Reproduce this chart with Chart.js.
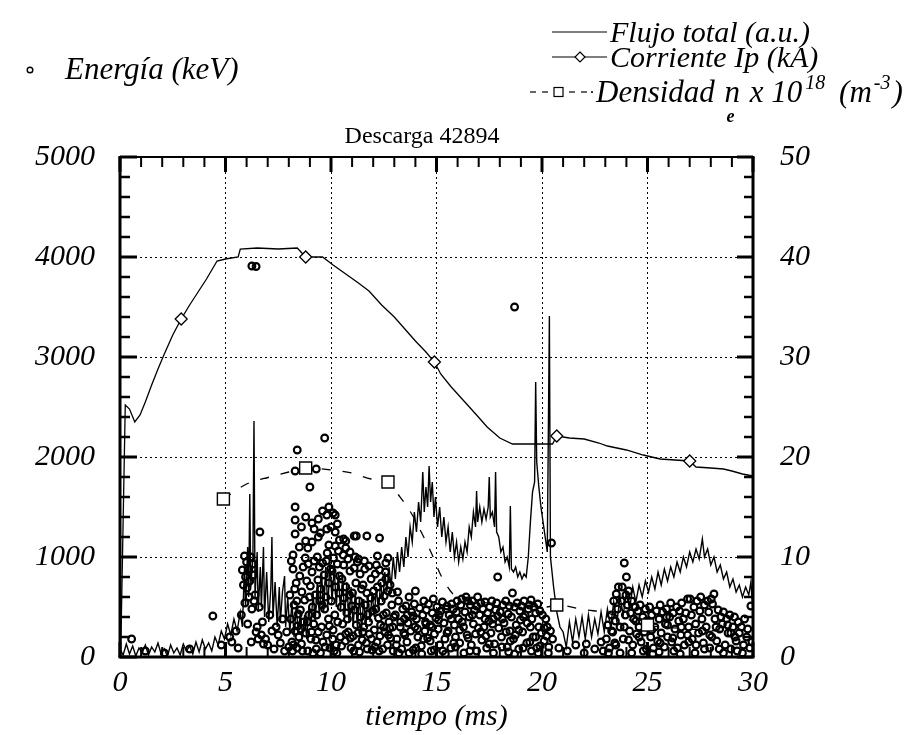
<!DOCTYPE html>
<html>
<head>
<meta charset="utf-8">
<script src="https://cdn.jsdelivr.net/npm/chart.js@4.4.1/dist/chart.umd.min.js"></script>
<style>
html,body{margin:0;padding:0;background:#fff;}
canvas{display:block;}
</style>
</head>
<body>
<canvas id="c" width="915" height="735"></canvas>
<script>
// ---------------- DATA ----------------
const chartTitle = 'Descarga 42894';
const xTitle = 'tiempo (ms)';

// Flujo total (a.u.) : [t (ms), value] on left axis
const fluxPoints = [
[0,80],[0.15,20],[0.3,130],[0.45,30],[0.6,110],[0.75,10],[0.9,90],[1.05,40],[1.2,120],[1.35,20],
[1.5,100],[1.65,50],[1.8,140],[1.95,30],[2.1,80],[2.25,10],[2.4,120],[2.55,40],[2.7,90],[2.85,20],
[3.0,130],[3.15,60],[3.3,110],[3.45,30],[3.6,150],[3.75,50],[3.9,170],[4.05,80],[4.2,140],[4.35,60],[4.5,200],
[4.65,120],[4.8,260],[4.95,180],[5.1,330],[5.25,220],[5.4,380],[5.55,260],[5.7,450],
[5.8,300],[5.9,900],[5.95,500],[6.05,1100],[6.1,600],[6.15,1630],[6.2,700],[6.3,1000],[6.35,2360],[6.4,600],
[6.5,1050],[6.55,450],[6.65,900],[6.7,500],[6.8,1100],[6.85,400],[6.95,850],[7.05,350],[7.15,700],[7.2,1200],
[7.25,400],[7.35,750],[7.45,300],[7.55,700],[7.6,350],[7.7,650],[7.8,810],[7.85,300],[7.95,600],[8.05,250],
[8.15,550],[8.25,200],[8.35,500],[8.45,250],[8.55,450],[8.65,200],[8.75,420],[8.85,180],[8.95,500],[9.05,300],
[9.15,650],[9.25,350],[9.35,750],[9.45,400],[9.55,850],[9.65,450],[9.75,900],[9.85,500],[9.95,950],[10.05,550],
[10.15,900],[10.25,500],[10.35,850],[10.45,450],[10.55,800],[10.65,400],[10.75,750],[10.85,350],[10.95,700],[11.05,300],
[11.15,650],[11.25,300],[11.35,600],[11.45,280],[11.55,580],[11.65,300],[11.75,620],[11.85,350],[11.95,650],[12.05,400],
[12.15,700],[12.25,450],[12.35,750],[12.45,550],[12.55,850],[12.65,650],[12.75,900],[12.85,700],[12.95,1000],[13.05,780],
[13.15,1050],[13.25,850],[13.35,1100],[13.45,900],[13.55,1200],[13.65,1000],[13.75,1300],[13.85,1150],[13.95,1450],[14.05,1250],
[14.15,1550],[14.25,1350],[14.35,1850],[14.42,1450],[14.5,1700],[14.58,1500],[14.65,1910],[14.72,1550],[14.8,1750],[14.88,1400],
[14.95,1600],[15.05,1300],[15.15,1500],[15.25,1200],[15.35,1400],[15.45,1150],[15.55,1300],[15.65,1050],[15.75,1250],[15.85,1000],
[15.95,1150],[16.05,950],[16.15,1100],[16.25,980],[16.35,1150],[16.45,1050],[16.55,1300],[16.65,1200],[16.75,1450],[16.85,1300],
[16.9,1660],[16.95,1350],[17.05,1500],[17.15,1350],[17.25,1480],[17.35,1380],[17.45,1500],[17.5,1800],[17.55,1400],[17.65,1450],
[17.75,1300],[17.8,1850],[17.85,1250],[17.95,1200],[18.05,1050],[18.15,1100],[18.25,950],[18.35,1000],[18.45,900],[18.5,1510],
[18.55,880],[18.65,850],[18.75,900],[18.85,800],[18.95,850],[19.05,780],[19.15,830],[19.25,800],[19.35,1000],[19.45,1350],
[19.55,1650],[19.65,1750],[19.7,2750],[19.75,1950],[19.85,1700],[19.95,1500],[20.05,1350],[20.15,1200],[20.25,1050],[20.35,3410],
[20.4,1000],[20.55,700],[20.7,450],[20.85,300],[21.0,250],[21.15,100],[21.3,350],[21.45,150],[21.6,380],[21.75,200],
[21.9,400],[22.05,180],[22.2,420],[22.35,200],[22.5,380],[22.65,230],[22.8,450],[22.95,250],[23.1,480],[23.25,300],
[23.4,550],[23.55,350],[23.7,600],[23.85,420],[24.0,650],[24.15,480],[24.3,700],[24.45,550],[24.6,720],[24.75,600],
[24.9,760],[25.05,650],[25.2,800],[25.35,680],[25.5,850],[25.65,720],[25.8,880],[25.95,760],[26.1,900],[26.25,800],
[26.4,950],[26.55,850],[26.7,1000],[26.85,900],[27.0,1050],[27.15,950],[27.3,1080],[27.45,980],[27.6,1180],[27.7,1000],
[27.85,1080],[28.0,920],[28.15,1000],[28.3,850],[28.45,920],[28.6,780],[28.75,850],[28.9,700],[29.05,780],[29.2,650],
[29.35,720],[29.5,600],[29.65,700],[29.8,620],[29.9,750],[30,450]
];

// Energía (keV) : [t (ms), keV] on left axis
const energyPoints = [
[0.55,180],[1.2,60],[2.1,40],[3.3,80],[4.4,410],[4.8,120],[5.2,200],
[5.3,150],[5.5,260],[5.6,90],[5.75,420],[5.8,870],[5.85,720],[5.9,1010],[5.92,540],[5.95,800],[6.0,950],
[6.02,690],[6.05,330],[6.1,880],[6.12,600],[6.15,760],[6.2,1000],[6.22,150],[6.25,480],[6.3,930],[6.32,820],
[6.35,560],[6.4,620],[6.45,250],[6.5,300],[6.55,180],[6.6,500],[6.63,1250],[6.7,220],[6.75,350],[6.8,130],
[6.9,180],[7.0,120],[7.1,420],[7.2,260],[7.3,80],[7.4,300],[7.5,220],[7.6,140],[7.7,380],[7.8,60],[7.9,250],[8.0,100],
[6.25,3910],[6.45,3905],[18.7,3500],
[8.4,2070],[9.7,2190],[8.3,1860],[9.3,1880],[9.0,1700],[8.3,1500],[8.3,1370],[8.8,1400],[9.1,1340],[9.4,1380],
[9.8,1420],[10.2,1420],[10.3,1330],[8.3,1230],[9.5,1240],[9.8,1280],[10.2,1250],[11.2,1210],[11.7,1210],[12.3,1190],
[8.5,1100],[8.8,1160],[10.4,1170],[10.7,1160],[8.2,1020],[8.9,1090],[10.2,1110],[10.7,1090],[10.9,1050],[11.3,980],
[12.2,1010],[12.7,990],[9.2,1280],[10.0,1300],[10.6,1180],[11.1,1210],[9.6,1460],[9.9,1500],[10.1,1440],[9.4,1200],
[8.6,1300],[12.6,940],[9.1,1150],[9.9,1120],
[8.05,620],[8.1,380],[8.15,150],[8.2,880],[8.25,520],[8.3,260],[8.35,740],[8.4,90],[8.45,430],[8.12,960],[8.28,680],[8.42,310],[8.18,60],[8.38,560],[8.48,200],
[8.52,810],[8.55,470],[8.6,130],[8.62,650],[8.68,900],[8.7,350],[8.75,570],[8.8,240],[8.85,760],[8.9,60],[8.92,930],[8.95,420],[8.58,280],[8.78,990],[8.98,600],
[9.02,710],[9.05,180],[9.1,850],[9.12,500],[9.18,330],[9.2,960],[9.25,620],[9.3,80],[9.32,420],[9.38,770],[9.4,250],[9.45,900],[9.48,560],[9.15,40],[9.35,1000],
[9.52,680],[9.55,300],[9.6,940],[9.62,150],[9.68,820],[9.7,480],[9.75,600],[9.8,220],[9.82,1040],[9.88,380],[9.9,740],[9.95,90],[9.98,880],[9.58,520],[9.78,960],
[10.02,560],[10.05,860],[10.1,270],[10.12,990],[10.18,420],[10.2,700],[10.25,120],[10.3,930],[10.32,350],[10.38,640],[10.4,810],[10.45,200],[10.48,500],[10.15,60],[10.35,1060],
[10.52,780],[10.55,330],[10.6,920],[10.62,590],[10.68,160],[10.7,700],[10.75,440],[10.8,980],[10.82,250],[10.88,620],[10.9,860],[10.95,90],[10.98,510],[10.58,1020],[10.78,380],
[11.02,640],[11.05,210],[11.1,890],[11.12,470],[11.18,740],[11.2,320],[11.25,950],[11.3,120],[11.32,560],[11.38,830],[11.4,400],[11.45,680],[11.48,170],[11.15,1000],[11.35,50],
[11.52,720],[11.55,300],[11.6,880],[11.62,520],[11.68,140],[11.7,640],[11.75,430],[11.8,910],[11.82,230],[11.88,590],[11.9,780],[11.95,70],[11.98,460],[11.58,960],[11.78,350],
[12.02,660],[12.05,270],[12.1,830],[12.12,480],[12.18,150],[12.2,700],[12.25,390],[12.3,870],[12.32,210],[12.38,560],[12.4,740],[12.45,80],[12.48,420],[12.15,920],[12.35,320],
[12.52,610],[12.55,250],[12.6,780],[12.62,440],[12.68,120],[12.7,660],[12.75,350],[12.8,720],[12.82,190],[12.88,520],[12.9,640],[12.95,60],[12.98,400],[12.58,850],[12.78,290],
[8.22,120],[8.65,60],[9.08,250],[9.5,40],[9.92,310],[10.28,40],[10.7,230],[11.08,60],[11.5,250],[11.92,180],[12.28,60],[12.72,220],
[12.92,300],[8.88,350],[9.28,170],[9.72,100],[10.08,180],[10.5,110],[10.92,190],[11.28,240],[11.72,80],[12.08,100],[12.5,300],
[13.05,420],[13.12,180],[13.2,560],[13.28,300],[13.35,80],[13.4,480],[13.45,240],[13.15,650],[13.48,380],
[13.55,510],[13.6,150],[13.65,340],[13.7,600],[13.78,260],[13.82,450],[13.9,70],[13.95,530],[13.98,300],
[14.0,660],[14.05,380],[14.12,200],[14.2,490],[14.28,110],[14.35,420],[14.4,560],[14.45,260],[14.48,350],
[14.52,470],[14.58,190],[14.62,530],[14.7,320],[14.75,60],[14.8,440],[14.85,580],[14.9,230],[14.97,390],
[15.02,500],[15.08,280],[15.15,120],[15.2,460],[15.28,550],[15.35,340],[15.4,180],[15.45,480],[15.5,510],
[15.55,260],[15.6,420],[15.68,90],[15.72,530],[15.8,480],[15.85,320],[15.9,200],[15.95,450],[15.98,560],
[16.05,380],[16.1,140],[16.15,520],[16.2,580],[16.28,300],[16.35,450],[16.4,600],[16.45,220],[16.48,560],
[16.55,400],[16.6,520],[16.65,120],[16.7,560],[16.75,330],[16.8,470],[16.85,230],[16.9,510],[16.95,600],
[17.05,420],[17.1,540],[17.15,170],[17.2,480],[17.25,300],[17.3,550],[17.38,90],[17.42,440],[17.48,360],
[17.52,500],[17.58,240],[17.62,560],[17.7,380],[17.75,130],[17.8,470],[17.85,540],[17.9,800],[17.95,290],
[18.02,450],[18.08,200],[18.15,520],[18.2,340],[18.28,560],[18.35,100],[18.4,430],[18.45,510],[18.48,260],
[18.55,400],[18.6,640],[18.65,180],[18.7,500],[18.78,320],[18.82,540],[18.9,80],[18.95,460],[18.98,370],
[19.02,510],[19.08,250],[19.15,560],[19.2,420],[19.28,140],[19.35,480],[19.4,520],[19.45,300],[19.48,570],
[19.52,380],[19.58,200],[19.62,500],[19.7,440],[19.75,90],[19.8,530],[19.85,300],[19.9,460],[19.97,240],
[20.02,420],[20.1,160],[20.18,380],[20.25,300],[20.32,100],[20.4,260],[20.45,1140],[20.5,180],
[13.1,120],[13.3,350],[13.5,220],[13.7,40],[13.9,410],[14.1,280],[14.3,30],[14.5,330],[14.7,160],[14.9,70],
[15.1,370],[15.3,60],[15.5,240],[15.7,380],[15.9,100],[16.1,270],[16.3,40],[16.5,190],[16.7,420],[16.9,60],
[17.1,250],[17.3,380],[17.5,130],[17.7,40],[17.9,410],[18.1,100],[18.3,250],[18.5,160],[18.7,30],[18.9,270],
[19.1,90],[19.3,340],[19.5,60],[19.7,200],[19.9,110],[20.1,290],[20.3,40],
[13.22,40],[13.62,420],[14.02,90],[14.38,180],[14.78,300],[15.12,420],[15.42,30],[15.82,140],[16.22,350],[16.58,60],
[16.98,290],[17.34,210],[17.66,330],[18.12,380],[18.42,50],[18.74,220],[19.12,400],[19.42,150],[19.82,40],[20.22,210],
[20.8,90],[21.2,60],[21.6,120],[22.0,40],[22.1,130],[22.5,80],[22.8,150],[22.9,60],
[23.05,180],[23.12,320],[23.2,90],[23.28,420],[23.35,250],[23.4,560],[23.45,140],[23.48,360],
[23.52,630],[23.58,480],[23.62,700],[23.7,300],[23.75,560],[23.8,700],[23.85,180],[23.9,940],[23.95,420],[23.98,620],
[24.0,800],[24.05,520],[24.1,660],[24.15,260],[24.2,440],[24.25,560],[24.3,120],[24.35,380],[24.42,500],[24.48,230],
[24.55,460],[24.6,300],[24.65,520],[24.7,150],[24.78,400],[24.85,250],[24.9,480],[24.95,80],
[25.05,360],[25.1,500],[25.15,200],[25.2,420],[25.28,90],[25.35,300],[25.42,460],[25.48,160],
[25.55,380],[25.6,520],[25.65,240],[25.72,450],[25.8,100],[25.85,330],[25.9,480],[25.95,200],
[26.05,400],[26.1,540],[26.15,150],[26.22,440],[26.3,280],[26.38,500],[26.42,90],[26.48,360],
[26.52,460],[26.58,220],[26.62,540],[26.7,380],[26.75,120],[26.82,440],[26.9,580],[26.95,300],
[27.02,580],[27.08,420],[27.12,180],[27.2,500],[27.28,330],[27.35,560],[27.42,240],[27.48,460],
[27.52,600],[27.58,380],[27.65,140],[27.7,520],[27.78,300],[27.85,560],[27.9,450],[27.95,220],
[28.02,580],[28.08,530],[28.15,630],[28.2,380],[28.28,160],[28.35,470],[28.42,280],[28.48,400],
[28.55,330],[28.6,450],[28.68,120],[28.75,380],[28.82,240],[28.9,420],[28.95,80],
[29.05,300],[29.12,400],[29.2,160],[29.3,350],[29.35,240],[29.45,300],[29.55,120],[29.7,200],[29.85,90],[29.9,510],
[23.15,40],[23.5,120],[23.9,300],[24.25,40],[24.6,200],[24.95,360],[25.25,30],[25.6,140],[25.95,320],[26.25,60],
[26.6,300],[26.95,150],[27.25,40],[27.6,260],[27.95,90],[28.25,300],[28.6,40],[28.95,240],[29.25,60],[29.6,380],[29.95,150],
[23.3,260],[23.7,40],[24.1,170],[24.45,360],[24.8,60],[25.2,270],[25.55,50],[25.9,400],[26.2,190],[26.55,30],
[26.9,220],[27.3,120],[27.7,80],[28.05,200],[28.4,80],[28.8,320],[29.15,200],[29.5,40],[29.75,280]
];

// Corriente Ip (kA) on right axis
const ipTimes  = [0.03,0.25,0.45,0.7,0.95,1.2,1.5,1.8,2.1,2.5,2.9,3.3,3.7,4.1,4.6,5.0,5.6,5.7,6.5,7.5,8.4,8.8,9.6,10.1,10.7,11.3,11.8,12.4,13.0,13.5,14.0,14.5,14.9,15.2,15.7,16.3,16.9,17.4,18.0,18.6,19.5,20.5,20.7,21.3,22.0,22.7,23.1,24.0,24.8,25.6,26.3,27.0,27.3,28.0,28.6,29.0,29.5,30.0];
const ipValues = [0,25.2,24.8,23.5,24.2,25.5,27.2,28.8,30.3,32.2,33.8,35.2,36.5,37.8,39.6,39.8,40.0,40.8,40.9,40.8,40.9,40.0,40.0,39.2,38.3,37.4,36.6,35.2,34.0,32.8,31.6,30.5,29.5,28.3,27.0,25.6,24.2,23.0,21.9,21.3,21.3,21.3,22.1,21.9,21.8,21.4,21.1,20.7,20.2,19.8,19.7,19.6,19.0,18.9,18.8,18.6,18.3,18.1];
const ipMarkerTimes = [2.9,8.8,14.9,20.7,27.0];

// Densidad n_e x 10^18 (m^-3) on right axis
const densTimes  = [4.9,6.0,7.1,8.0,8.8,10.0,11.0,11.9,12.7,13.2,13.8,14.3,14.8,15.2,16.0,17.0,18.5,20.2,20.7,22.1,22.9,25.0,27.0,29.0];
const densValues = [15.8,17.3,18.0,18.5,18.9,18.7,18.4,17.8,17.5,16.2,14.4,12.4,10.2,8.2,5.9,5.5,5.2,5.0,5.2,4.7,4.5,3.2,2.8,2.5];
const densMarkerTimes = [4.9,8.8,12.7,20.7,25.0];

const labels = {
  flux: 'Flujo total (a.u.)',
  ip: 'Corriente Ip (kA)',
  dens: 'Densidad n_e x 10^18 (m^-3)',
  energy: 'Energía (keV)'
};

// ---------------- CHART ----------------
const SERIF = '"Liberation Serif", "Times New Roman", "DejaVu Serif", serif';
Chart.defaults.font.family = SERIF;
Chart.defaults.color = '#000';

const italic = (s) => ({family: SERIF, size: s, style: 'italic'});

function drawLegendAndTitle(ctx) {
  ctx.save();
  ctx.fillStyle = '#000';
  ctx.strokeStyle = '#000';
  ctx.textBaseline = 'alphabetic';
  ctx.textAlign = 'left';
  const f = (sz, w) => `italic ${w || ''} ${sz}px ${SERIF}`;
  const seg = (x1, y1, x2, y2, w) => { ctx.lineWidth = w; ctx.beginPath(); ctx.moveTo(x1, y1); ctx.lineTo(x2, y2); ctx.stroke(); };

  // Flujo
  seg(552, 32, 607, 32, 1.2);
  ctx.font = f(30);
  ctx.fillText(labels.flux, 610, 42);
  // Corriente
  seg(552, 57, 607, 57, 1.2);
  ctx.beginPath();
  ctx.moveTo(580, 52); ctx.lineTo(585, 57); ctx.lineTo(580, 62); ctx.lineTo(575, 57); ctx.closePath();
  ctx.fillStyle = '#fff'; ctx.fill(); ctx.lineWidth = 1.2; ctx.stroke(); ctx.fillStyle = '#000';
  ctx.fillText(labels.ip, 610, 67);
  // Densidad
  const dy = 92;
  seg(530, dy, 536, dy, 1.2); seg(542, dy, 548, dy, 1.2);
  ctx.lineWidth = 1.2; ctx.strokeRect(554, dy - 4.5, 9, 9);
  seg(569, dy, 575, dy, 1.2); seg(581, dy, 587, dy, 1.2);
  ctx.fillRect(591, dy - 0.7, 2, 1.6);
  let x = 596;
  const base = 102;
  ctx.font = f(31);
  ctx.fillText('Densidad ', x, base); x += ctx.measureText('Densidad ').width + 2;
  const nx = x;
  ctx.fillText('n', x, base); const nw = ctx.measureText('n').width; x += nw + 2;
  ctx.font = f(18, 'bold');
  ctx.fillText('e', nx + 2, base + 20);
  ctx.font = f(31);
  ctx.fillText(' x 10', x, base); x += ctx.measureText(' x 10').width + 3;
  ctx.font = f(20);
  ctx.fillText('18', x, base - 13); x += ctx.measureText('18').width + 6;
  ctx.font = f(31);
  ctx.fillText(' (m', x, base); x += ctx.measureText(' (m').width + 2;
  ctx.font = f(20);
  ctx.fillText('-3', x, base - 13); x += ctx.measureText('-3').width + 2;
  ctx.font = f(31);
  ctx.fillText(')', x, base);
  // Energía
  ctx.beginPath(); ctx.arc(30, 70, 2.8, 0, Math.PI * 2); ctx.lineWidth = 1.4; ctx.stroke();
  ctx.font = f(31);
  ctx.fillText(labels.energy, 65, 79);
  // Title
  ctx.font = `24px ${SERIF}`;
  ctx.textAlign = 'center';
  ctx.fillText(chartTitle, 422, 143);
  ctx.restore();
}

const framePlugin = {
  id: 'frame',
  afterDraw(chart) {
    const {ctx, chartArea: a, scales} = chart;
    const sx = scales.x, sy = scales.y, sy2 = scales.y2;
    ctx.save();
    ctx.strokeStyle = '#000';
    ctx.lineCap = 'butt';
    const seg = (x1, y1, x2, y2, w) => { ctx.lineWidth = w; ctx.beginPath(); ctx.moveTo(x1, y1); ctx.lineTo(x2, y2); ctx.stroke(); };
    for (let v = sx.min; v <= sx.max + 1e-9; v += 1) {
      const p = sx.getPixelForValue(v);
      const major = Math.abs(v % 5) < 1e-9;
      const L = major ? 15 : 10;
      seg(p, a.top, p, a.top + L, major ? 3 : 2);
      seg(p, a.bottom, p, a.bottom - L, major ? 3 : 2);
    }
    for (let v = sy.min; v <= sy.max + 1e-9; v += 200) {
      const p = sy.getPixelForValue(v);
      const major = v % 1000 === 0;
      seg(a.left, p, a.left + (major ? 17 : 10), p, major ? 3 : 2.5);
    }
    for (let v = sy2.min; v <= sy2.max + 1e-9; v += 2) {
      const p = sy2.getPixelForValue(v);
      const major = v % 10 === 0;
      seg(a.right, p, a.right - (major ? 16 : 9), p, major ? 3 : 2.5);
    }
    seg(a.left - 1.5, a.top, a.right + 1.5, a.top, 2.2);
    seg(a.left - 1.5, a.bottom, a.right + 1.5, a.bottom, 3);
    seg(a.left, a.top, a.left, a.bottom, 3);
    seg(a.right, a.top, a.right, a.bottom, 3);
    ctx.restore();
    drawLegendAndTitle(ctx);
  }
};

const toXY = (pairs) => pairs.map(p => ({x: p[0], y: p[1]}));
const plain = (v) => String(v);

new Chart(document.getElementById('c'), {
  type: 'scatter',
  data: {
    datasets: [
      {
        label: labels.ip,
        data: ipTimes.map((t, i) => ({x: t, y: ipValues[i]})),
        yAxisID: 'y2',
        showLine: true,
        borderColor: '#000',
        borderWidth: 1.3,
        pointStyle: 'rectRot',
        pointRadius: (c) => ipMarkerTimes.includes(ipTimes[c.dataIndex]) ? 6 : 0,
        pointBackgroundColor: '#fff',
        pointBorderColor: '#000',
        pointBorderWidth: 1.3,
        order: 0
      },
      {
        label: labels.dens,
        data: densTimes.map((t, i) => ({x: t, y: densValues[i]})),
        yAxisID: 'y2',
        showLine: true,
        borderColor: '#000',
        borderWidth: 1.3,
        borderDash: [9, 12],
        cubicInterpolationMode: 'monotone',
        pointStyle: 'rect',
        pointRadius: (c) => densMarkerTimes.includes(densTimes[c.dataIndex]) ? 8.5 : 0,
        pointBackgroundColor: '#fff',
        pointBorderColor: '#000',
        pointBorderWidth: 1.4,
        order: 1
      },
      {
        label: labels.flux,
        data: toXY(fluxPoints),
        yAxisID: 'y',
        showLine: true,
        borderColor: '#000',
        borderWidth: 1.4,
        pointRadius: 0,
        order: 2
      },
      {
        label: labels.energy,
        data: toXY(energyPoints),
        yAxisID: 'y',
        showLine: false,
        pointStyle: 'circle',
        pointRadius: 3.4,
        pointBorderWidth: 2.1,
        pointBorderColor: '#000',
        pointBackgroundColor: 'rgba(0,0,0,0)',
        order: 3
      }
    ]
  },
  options: {
    responsive: false,
    animation: false,
    events: [],
    layout: {padding: {top: 157, left: 0, right: 0, bottom: 0}},
    plugins: {legend: {display: false}, title: {display: false}, tooltip: {enabled: false}},
    scales: {
      x: {
        type: 'linear', min: 0, max: 30,
        ticks: {stepSize: 5, font: italic(30), color: '#000', padding: 8, maxRotation: 0, autoSkip: false, callback: plain},
        grid: {color: '#000', lineWidth: 1, drawTicks: false},
        border: {display: false, dash: [2, 3]},
        title: {display: true, text: xTitle, font: italic(30), color: '#000', padding: {top: 0, bottom: 0}},
        afterFit: (s) => { s.height = 78; }
      },
      y: {
        type: 'linear', position: 'left', min: 0, max: 5000,
        ticks: {stepSize: 1000, font: italic(30), color: '#000', padding: 25, callback: plain},
        grid: {color: '#000', lineWidth: 1, drawTicks: false},
        border: {display: false, dash: [2, 3]},
        afterFit: (s) => { s.width = 120; }
      },
      y2: {
        type: 'linear', position: 'right', min: 0, max: 50,
        ticks: {stepSize: 10, font: italic(30), color: '#000', padding: 27, callback: plain},
        grid: {display: false, drawTicks: false},
        border: {display: false},
        afterFit: (s) => { s.width = 162; }
      }
    }
  },
  plugins: [framePlugin]
});
</script>
</body>
</html>
